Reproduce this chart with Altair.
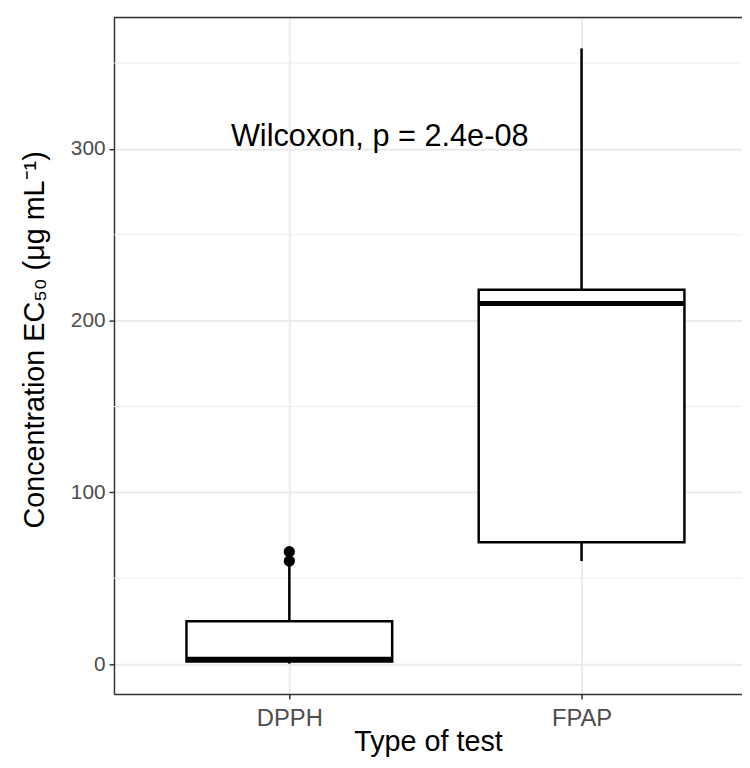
import altair as alt
import pandas as pd

groups = ["DPPH", "FPAP"]
group_pos = [1, 2]
q1 = [1.5, 71.0]
median = [2.8, 210.0]
q3 = [25.0, 218.0]
whisker_low = [0.3, 60.0]
whisker_high = [58.5, 358.5]
outlier_group = ["DPPH", "DPPH"]
outlier_pos = [1, 1]
outlier_value = [60.0, 65.5]
minor_grid = [50, 150, 250, 350]
annotation = "Wilcoxon, p = 2.4e-08"

half = 0.352
boxes = pd.DataFrame({
    "group": groups, "pos": group_pos,
    "left": [p - half for p in group_pos], "right": [p + half for p in group_pos],
    "q1": q1, "median": median, "q3": q3,
    "wl": whisker_low, "wh": whisker_high,
})
outl = pd.DataFrame({"group": outlier_group, "pos": outlier_pos, "value": outlier_value})
minor = pd.DataFrame({"y": minor_grid})

xdom = [0.4, 2.549]
ydom = [-17.4, 376.5]
xs = alt.Scale(domain=xdom, nice=False, zero=False)
ys = alt.Scale(domain=ydom, nice=False, zero=False)

x_axis = alt.Axis(values=[1, 2], labelExpr="datum.value == 1 ? 'DPPH' : 'FPAP'",
                  title="Type of test", grid=True, gridColor="#ebebeb", gridWidth=2,
                  domain=True, domainColor="#333333", domainWidth=1.5,
                  tickColor="#333333", tickWidth=1.5, tickSize=5,
                  labelColor="#4d4d4d", labelFontSize=24, labelPadding=8,
                  titleFontSize=29, titleColor="black", titleFontWeight="normal",
                  titleBaseline="middle", titleY=48)
y_axis = alt.Axis(values=[0, 100, 200, 300], title="Concentration EC₅₀ (μg mL⁻¹)",
                  grid=True, gridColor="#ebebeb", gridWidth=2,
                  domain=True, domainColor="#333333", domainWidth=1.5,
                  tickColor="#333333", tickWidth=1.5, tickSize=5,
                  labelColor="#4d4d4d", labelFontSize=21, labelPadding=4,
                  titleFontSize=29, titleColor="black", titleFontWeight="normal",
                  titleBaseline="middle", titleX=-80, titleY=325)

base_minor = alt.Chart(minor).mark_rule(color="#ebebeb", strokeWidth=1).encode(
    y=alt.Y("y:Q", scale=ys, axis=y_axis),
    x=alt.value(0), x2=alt.value(634),
)

whisk_lo = alt.Chart(boxes).mark_rule(color="black", strokeWidth=2.5).encode(
    x=alt.X("pos:Q", scale=xs, axis=x_axis), y=alt.Y("wl:Q", scale=ys), y2="q1:Q")
whisk_hi = alt.Chart(boxes).mark_rule(color="black", strokeWidth=2.5).encode(
    x=alt.X("pos:Q", scale=xs), y=alt.Y("q3:Q", scale=ys), y2="wh:Q")
box = alt.Chart(boxes).mark_rect(fill="white", stroke="black", strokeWidth=2.5).encode(
    x=alt.X("left:Q", scale=xs), x2="right:Q", y=alt.Y("q1:Q", scale=ys), y2="q3:Q")
med = alt.Chart(boxes).mark_rule(color="black", strokeWidth=5).encode(
    x=alt.X("left:Q", scale=xs), x2="right:Q", y=alt.Y("median:Q", scale=ys))
pts = alt.Chart(outl).mark_circle(color="black", opacity=1, size=130).encode(
    x=alt.X("pos:Q", scale=xs), y=alt.Y("value:Q", scale=ys))
txt = alt.Chart(pd.DataFrame({"t": [annotation]})).mark_text(
    align="left", baseline="middle", fontSize=31, color="black", font="Liberation Sans").encode(
    x=alt.datum(0.8, scale=xs), y=alt.datum(307, scale=ys), text="t:N")
top = alt.Chart(pd.DataFrame({"y": [ydom[1]]})).mark_rule(color="#333333", strokeWidth=1.5).encode(
    y=alt.Y("y:Q", scale=ys), x=alt.value(0), x2=alt.value(634))

chart = alt.layer(base_minor, whisk_lo, whisk_hi, box, med, pts, txt, top).properties(
    width=634, height=683,
    autosize=alt.AutoSizeParams(type="none"),
    padding={"left": 107, "top": 6, "right": 0, "bottom": 63},
).configure_view(stroke=None).configure(font="Liberation Sans")

chart.save("out.html", embed_options={"renderer": "svg", "actions": False})
